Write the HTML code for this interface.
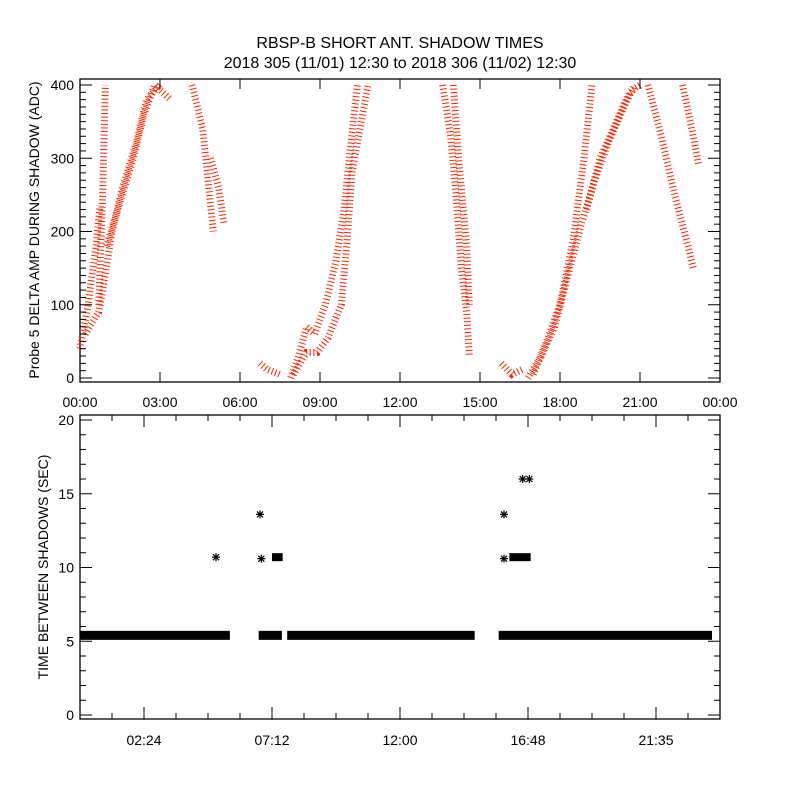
<!DOCTYPE html>
<html><head><meta charset="utf-8"><style>
body{margin:0;background:#fff;}
svg text{font-family:"Liberation Sans",sans-serif;fill:#000;}
</style></head><body>
<svg id="c" width="800" height="800" viewBox="0 0 800 800" xmlns="http://www.w3.org/2000/svg">
<rect width="800" height="800" fill="#fff"/>
<text x="400" y="48" font-size="16" text-anchor="middle">RBSP-B SHORT ANT. SHADOW TIMES</text>
<text x="400" y="68" font-size="16" text-anchor="middle">2018 305 (11/01) 12:30 to 2018 306 (11/02) 12:30</text>
<g id="topPanel"></g>
<g id="botPanel"></g>
</svg>
<script>
// ---- data ----
const topTickLabels=["00:00","03:00","06:00","09:00","12:00","15:00","18:00","21:00","00:00"];
const topYTicks=[0,100,200,300,400];
const trackA1=[[0,40],[0.3,100],[0.6,180],[0.75,235]];
const trackA2=[[0.7,100],[0.85,250],[0.95,400]];
const trackB=[[0.2,60],[0.7,90],[0.9,130],[1.2,200],[1.6,260],[2.1,320],[2.5,380],[3.0,400]];
const trackB2=[[1.0,180],[1.5,240],[2.0,300],[2.4,360],[2.8,400],[3.4,380]];
const trackC1=[[4.2,400],[4.6,340],[5.0,200]];
const trackC2=[[4.9,300],[5.2,260],[5.4,210]];
const trackD=[[6.75,20],[7.0,12],[7.5,5]];
const trackE1=[[7.9,0],[8.2,30],[8.5,70],[8.8,60],[9.2,100],[9.6,160],[9.9,230],[10.1,300],[10.4,400]];
const trackE2=[[8.0,5],[8.5,35],[8.9,35],[9.3,55],[9.8,100],[10.0,180],[10.2,280],[10.6,360],[10.8,400]];
const trackF1=[[13.6,400],[13.9,330],[14.1,250],[14.3,150],[14.5,90],[14.6,30]];
const trackF2=[[14.0,400],[14.2,300],[14.5,180],[14.6,100]];
const trackG=[[15.8,20],[16.2,5],[16.6,12]];
const trackH1=[[16.8,0],[17.3,30],[17.8,70],[18.3,140],[18.8,210],[19.3,270],[19.8,320],[20.4,370],[20.8,400]];
const trackH2=[[17.0,5],[17.5,50],[18.0,100],[18.5,190],[18.9,300],[19.2,400]];
const trackH3=[[19.0,230],[19.5,300],[20.0,340],[20.6,390],[21.0,400]];
const trackI1=[[21.3,400],[21.8,330],[22.3,250],[22.8,180],[23.0,150]];
const trackI2=[[22.6,400],[23.0,330],[23.2,290]];
const tracks=[trackA1,trackA2,trackB,trackB2,trackC1,trackC2,trackD,trackE1,trackE2,trackF1,trackF2,trackG,trackH1,trackH2,trackH3,trackI1,trackI2];
const botTickLabels=["02:24","07:12","12:00","16:48","21:35"];
const botTickHours=[2.4,7.2,12.0,16.8,21.6];
const botYTicks=[0,5,10,15,20];
const bandStart=[0,6.7,7.77,15.7];
const bandEnd=[5.62,7.57,14.8,23.7];
const bandValue=5.4;
const hiBandStart=[7.2,16.1];
const hiBandEnd=[7.6,16.9];
const hiBandValue=10.7;
const outT=[5.1,6.75,6.8,15.9,15.9,16.6,16.85];
const outV=[10.7,13.6,10.6,13.6,10.6,16.0,16.0];

// ---- scales ----
const X0=80,X1=720;
const xs=h=>X0+h*(X1-X0)/24;
const ys1=v=>378-v*0.7325;
const ys2=v=>715-v*14.75;
const NS="http://www.w3.org/2000/svg";
function mk(p,t,a){const e=document.createElementNS(NS,t);for(const k in a)e.setAttribute(k,a[k]);p.appendChild(e);return e;}
const topG=document.getElementById('topPanel'),botG=document.getElementById('botPanel');

// top panel
const f1=mk(topG,'rect',{x:80,y:79,width:640,height:303,fill:'none',stroke:'#000','stroke-width':1.3});


tracks.forEach((tr,i)=>{
  const pl=mk(topG,'polyline',{points:tr.map(p=>xs(p[0])+','+ys1(p[1])).join(' '),fill:'none',stroke:'#ff2200','stroke-width':7,'stroke-dasharray':'1 2.6'});
  
  
});
for(let v=0;v<=400;v+=10){const L=v%100===0?12:6;
  mk(topG,'line',{x1:80,x2:80+L,y1:ys1(v),y2:ys1(v),stroke:'#000'});
  mk(topG,'line',{x1:720,x2:720-L,y1:ys1(v),y2:ys1(v),stroke:'#000'});}
topYTicks.forEach(v=>{const t=mk(topG,'text',{x:74,y:ys1(v)+5,'font-size':14,'text-anchor':'end'});t.textContent=v;
  
  });
topTickLabels.forEach((s,i)=>{const x=xs(i*3);
  mk(topG,'line',{x1:x,x2:x,y1:382,y2:372,stroke:'#000'});mk(topG,'line',{x1:x,x2:x,y1:79,y2:89,stroke:'#000'});
  const t=mk(topG,'text',{x:x,y:407,'font-size':14,'text-anchor':'middle'});t.textContent=s;
  
  });
const yt1=mk(topG,'text',{x:0,y:0,'font-size':14,'text-anchor':'middle',transform:'translate(39,230) rotate(-90)'});
yt1.textContent='Probe 5 DELTA AMP DURING SHADOW (ADC)';



// bottom panel
const f2=mk(botG,'rect',{x:80,y:415,width:640,height:304,fill:'none',stroke:'#000','stroke-width':1.3});


for(let v=0;v<=20;v++){const L=v%5===0?12:6;
  mk(botG,'line',{x1:80,x2:80+L,y1:ys2(v),y2:ys2(v),stroke:'#000'});
  mk(botG,'line',{x1:720,x2:720-L,y1:ys2(v),y2:ys2(v),stroke:'#000'});}
botYTicks.forEach(v=>{const t=mk(botG,'text',{x:74,y:ys2(v)+5,'font-size':14,'text-anchor':'end'});t.textContent=v;
  
  });
for(let h=1.2;h<24;h+=1.2){const x=xs(h);
  mk(botG,'line',{x1:x,x2:x,y1:719,y2:713,stroke:'#000'});mk(botG,'line',{x1:x,x2:x,y1:415,y2:421,stroke:'#000'});}
botTickHours.forEach((h,i)=>{const x=xs(h);
  mk(botG,'line',{x1:x,x2:x,y1:719,y2:707,stroke:'#000'});mk(botG,'line',{x1:x,x2:x,y1:415,y2:427,stroke:'#000'});
  const t=mk(botG,'text',{x:x,y:745,'font-size':14,'text-anchor':'middle'});t.textContent=botTickLabels[i];
  
  });
bandStart.forEach((s,i)=>{
  const r=mk(botG,'rect',{x:xs(s),y:ys2(bandValue)-4.5,width:xs(bandEnd[i])-xs(s),height:9,fill:'#000'});
  
  });
hiBandStart.forEach((s,i)=>{
  const r=mk(botG,'rect',{x:xs(s),y:ys2(hiBandValue)-4,width:xs(hiBandEnd[i])-xs(s),height:8,fill:'#000'});
  
  });
outT.forEach((h,i)=>{const x=xs(h),y=ys2(outV[i]);
  const g=mk(botG,'path',{d:`M${x-4} ${y}H${x+4}M${x} ${y-4}V${y+4}M${x-3} ${y-3}L${x+3} ${y+3}M${x-3} ${y+3}L${x+3} ${y-3}`,stroke:'#000','stroke-width':1.2});
  
  });
const yt2=mk(botG,'text',{x:0,y:0,'font-size':14,'text-anchor':'middle',transform:'translate(48,567) rotate(-90)'});
yt2.textContent='TIME BETWEEN SHADOWS (SEC)';


</script>
</body></html>
